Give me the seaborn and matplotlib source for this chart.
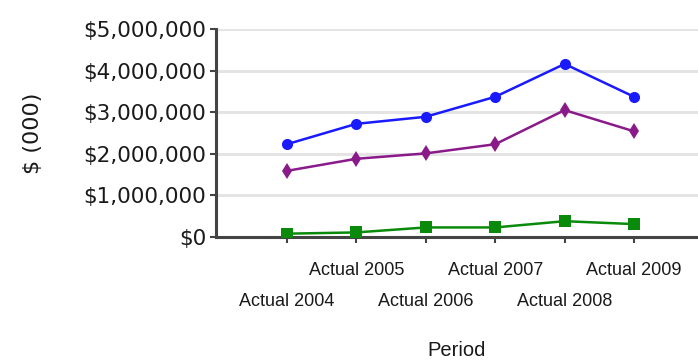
import matplotlib
matplotlib.use("Agg")
import matplotlib.pyplot as plt
import matplotlib.ticker as mticker
import seaborn as sns
import pandas as pd

periods = ["Actual 2004", "Actual 2005", "Actual 2006", "Actual 2007", "Actual 2008", "Actual 2009"]
revenue = [2230000, 2720000, 2890000, 3370000, 4160000, 3370000]
expenses = [1590000, 1880000, 2010000, 2230000, 3050000, 2540000]
profit = [80000, 110000, 230000, 230000, 380000, 310000]
y_ticks = [0, 1000000, 2000000, 3000000, 4000000, 5000000]

sns.set_theme(style="white")
plt.rcParams["font.family"] = ["DejaVu Sans"]

df = pd.DataFrame({
    "Period": periods * 3,
    "Value": revenue + expenses + profit,
    "Series": ["Revenue"] * 6 + ["Expenses"] * 6 + ["Profit"] * 6,
})

fig = plt.figure(figsize=(6.98, 3.64), dpi=100)
ax = fig.add_axes([216 / 698, 1 - 237 / 364, (698 - 216) / 698, 208 / 364])

palette = {"Revenue": "#1a1aff", "Expenses": "#8a1a8a", "Profit": "#0a8a0a"}
markers = {"Revenue": "o", "Expenses": "d", "Profit": "s"}
sns.lineplot(data=df, x="Period", y="Value", hue="Series", style="Series",
             palette=palette, markers=markers, dashes=False, linewidth=1.8,
             markersize=8, markeredgewidth=0, legend=False, ax=ax, zorder=3)

ax.set_ylim(0, 5000000)
ax.set_xlim(-1.02, 5.92)
ax.set_yticks(y_ticks)
ax.yaxis.set_major_formatter(mticker.FuncFormatter(lambda v, p: f"${v:,.0f}"))
ax.grid(axis="y", color="#e4e4e4", linewidth=2.2, zorder=0)
ax.grid(axis="x", visible=False)

for side in ("top", "right"):
    ax.spines[side].set_visible(False)
for side in ("left", "bottom"):
    ax.spines[side].set_color("#444444")
    ax.spines[side].set_linewidth(2.2)

ax.tick_params(axis="y", direction="out", length=4, width=1.5, color="#444444",
               left=True, pad=3, labelsize=15.5, labelcolor="#1a1a1a")
ax.tick_params(axis="x", direction="out", length=4, width=1.5, color="#444444",
               bottom=True, labelcolor="#1a1a1a")

ax.set_xticks(range(len(periods)))
ax.set_xticklabels(periods, family=["Liberation Sans", "DejaVu Sans"], fontsize=13)
for i, tick in enumerate(ax.xaxis.get_major_ticks()):
    tick.set_pad(14 if i % 2 == 1 else 36)

ax.set_xlabel("Period", family=["Liberation Sans", "DejaVu Sans"], fontsize=14.5,
              color="#1a1a1a", labelpad=23)
ax.set_ylabel("$ (000)", fontsize=16, color="#1a1a1a", labelpad=29)

fig.savefig("out.png", dpi=100, facecolor="white")
